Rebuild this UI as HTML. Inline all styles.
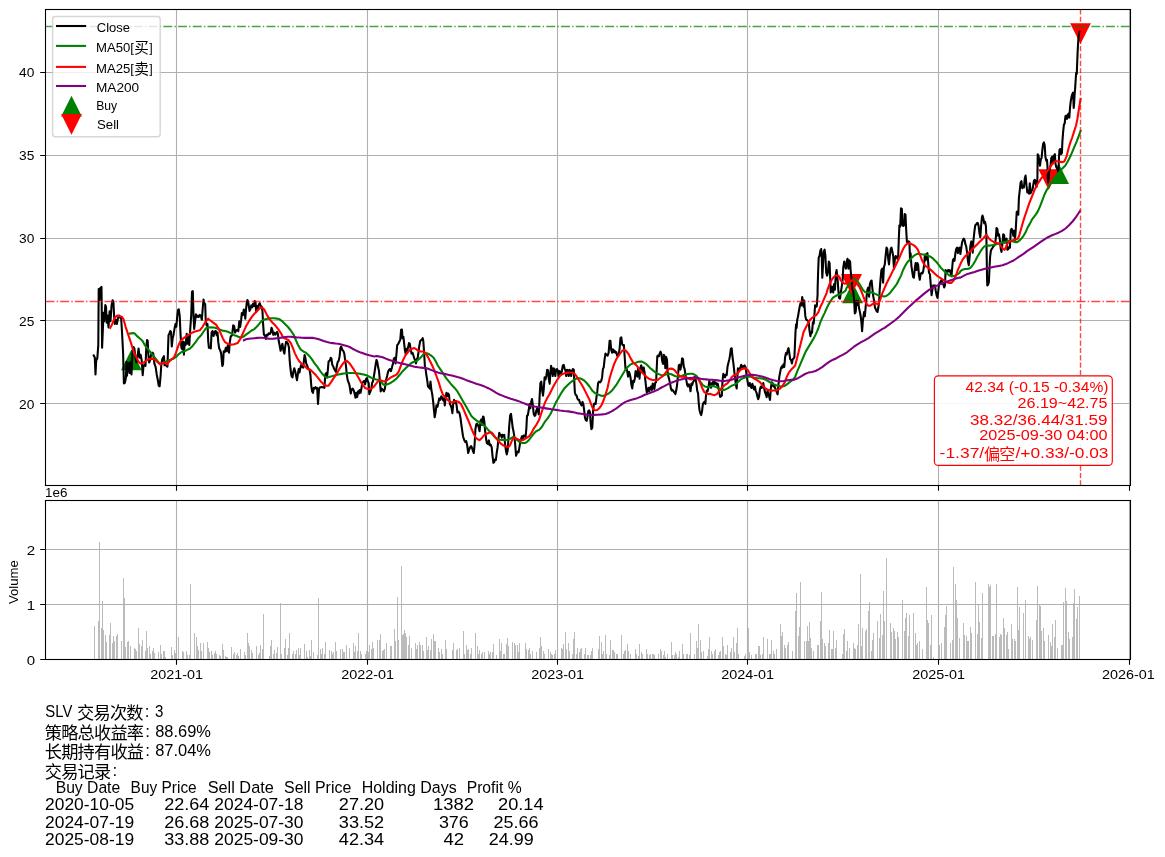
<!DOCTYPE html><html lang="zh"><head><meta charset="utf-8"><title>SLV</title>
<style>html,body{margin:0;padding:0;background:#fff}svg{display:block;will-change:transform}text{font-family:"Liberation Sans",sans-serif}text.cjk{font-family:"Liberation Sans","Noto Sans CJK SC",sans-serif}</style></head><body>
<svg width="1165" height="857" viewBox="0 0 1165 857">
<defs><clipPath id="c1"><rect x="45.50" y="9.50" width="1085.00" height="476.00"/></clipPath>
<clipPath id="c2"><rect x="45.50" y="500.50" width="1085.00" height="159.00"/></clipPath></defs>
<g clip-path="url(#c1)">
<polygon points="131.4,349.4 141.8,370.2 121.0,370.2" fill="#008000"/>
<polygon points="852.6,282.5 863.0,303.3 842.2,303.3" fill="#008000"/>
<polygon points="1058.6,163.3 1069.0,184.1 1048.2,184.1" fill="#008000"/>
<polygon points="851.6,294.7 862.0,273.9 841.2,273.9" fill="#ff0000"/>
<polygon points="1048.7,190.1 1059.1,169.3 1038.3,169.3" fill="#ff0000"/>
<polygon points="1080.5,44.1 1090.9,23.3 1070.1,23.3" fill="#ff0000"/>
<path d="M176.50 9.50V485.50M367.50 9.50V485.50M557.50 9.50V485.50M747.50 9.50V485.50M938.50 9.50V485.50M1129.50 9.50V485.50M45.50 72.50H1130.50M45.50 155.50H1130.50M45.50 238.50H1130.50M45.50 320.50H1130.50M45.50 403.50H1130.50" stroke="#b0b0b0" stroke-width="1.1" fill="none"/>
<polyline points="93.7,355.5 94.8,357.6 95.5,374.4 96.2,360.4 97.3,358.3 98.3,345.0 98.7,289.0 99.4,300.2 100.1,288.3 101.5,286.9 102.1,347.8 102.8,331.0 103.6,312.8 104.3,321.2 105.3,305.1 106.0,306.5 106.7,322.6 107.4,315.6 108.5,327.5 109.6,311.4 110.5,321.2 111.6,305.1 112.6,300.2 113.4,301.6 114.1,315.6 114.8,324.0 115.8,319.8 116.9,324.0 117.9,318.4 119.3,315.6 120.3,317.7 121.1,317.0 122.1,333.8 123.1,353.4 123.9,383.5 124.9,382.8 125.9,377.9 126.5,361.8 127.0,375.8 127.7,364.6 128.7,363.2 129.5,373.0 130.5,361.8 131.5,374.4 132.6,350.6 133.5,347.1 134.4,348.5 135.4,357.6 136.5,362.5 137.7,354.8 138.6,348.5 139.6,357.6 140.6,354.8 141.7,360.4 142.7,375.1 143.5,366.0 144.5,364.6 145.5,366.0 146.3,347.8 147.0,340.1 147.7,340.8 148.3,353.4 149.1,362.5 150.1,360.4 151.1,354.8 152.2,352.7 153.2,353.4 154.3,363.2 155.7,367.4 156.7,374.4 157.8,380.0 158.7,385.6 159.6,386.3 160.6,375.8 161.3,364.6 162.3,359.0 163.2,357.6 163.9,356.2 164.6,365.3 165.5,364.6 166.5,366.0 167.4,366.7 167.9,353.4 168.5,335.2 169.3,333.8 170.2,331.0 171.0,331.7 171.8,346.4 172.7,338.0 173.5,335.2 174.6,328.2 175.5,324.0 176.3,326.8 177.2,317.0 178.0,310.0 178.8,309.3 179.7,315.6 180.5,333.8 181.4,347.8 182.2,349.2 183.0,341.5 183.9,354.8 184.7,342.2 185.6,345.0 186.7,333.8 187.5,343.6 188.4,335.2 189.3,345.0 190.3,328.2 191.2,315.6 192.0,291.8 192.8,291.1 193.5,315.6 194.2,328.9 195.1,321.2 195.9,314.2 196.8,317.0 197.9,315.6 198.7,317.0 199.8,314.9 201.0,316.3 201.8,319.8 202.6,310.0 203.5,299.5 204.3,303.0 205.2,304.4 205.7,319.8 206.6,325.4 207.5,324.0 208.2,340.8 208.9,347.8 209.9,347.8 210.8,348.5 211.6,332.4 212.5,331.0 213.6,335.9 214.7,331.7 215.8,331.0 216.7,335.2 217.5,332.4 218.3,342.2 219.2,348.5 220.3,350.6 221.1,353.4 222.3,366.0 223.0,364.6 223.7,351.3 224.8,352.0 225.8,347.8 226.7,351.3 227.9,345.0 229.0,352.7 229.8,342.2 230.7,336.6 232.1,335.2 233.2,325.4 234.2,326.1 235.1,332.6 236.2,330.5 237.3,329.8 238.3,331.2 239.3,321.4 240.1,327.0 241.1,320.7 241.8,313.0 242.9,315.1 243.8,309.5 244.6,310.9 245.3,318.6 246.0,309.5 246.7,303.2 247.4,300.1 248.1,301.1 248.8,306.0 249.5,310.9 250.5,308.8 251.3,305.3 252.3,307.4 253.0,303.9 254.1,306.0 254.7,301.1 255.5,301.8 256.1,311.6 256.9,306.0 257.9,308.1 258.9,304.6 259.7,303.2 260.7,306.0 261.7,306.7 262.5,311.6 263.1,324.2 263.9,334.7 264.9,335.4 265.9,338.9 266.7,334.7 267.7,335.4 268.7,333.3 269.8,334.0 270.7,332.6 271.5,327.7 272.3,329.8 273.3,334.7 274.3,332.6 275.4,334.7 276.3,333.3 277.1,331.9 277.9,334.0 278.6,340.3 279.6,345.2 280.6,350.8 281.6,346.6 282.4,343.8 283.5,350.8 284.4,353.6 285.2,346.6 286.1,341.7 287.2,342.4 288.0,343.8 288.9,347.3 289.7,360.6 290.5,369.0 291.5,376.0 292.5,377.4 293.3,371.8 294.3,368.3 295.3,371.8 296.1,376.0 297.0,380.2 297.8,374.6 298.7,369.0 299.5,372.5 300.4,367.6 301.3,364.8 302.3,366.9 303.2,367.6 303.9,360.6 304.6,355.0 305.4,357.8 306.2,363.4 307.4,366.2 308.3,369.0 309.5,369.7 310.4,374.6 311.3,385.8 312.1,391.4 313.0,392.8 313.8,387.9 314.6,388.6 315.5,387.2 316.3,388.6 317.2,387.9 318.0,404.0 319.1,388.6 320.2,387.2 321.6,387.0 323.0,387.2 324.4,387.9 325.3,374.6 326.1,373.2 327.0,377.4 327.8,370.4 328.6,361.3 329.8,360.6 330.7,357.8 331.4,358.5 332.3,364.8 333.1,366.2 334.2,369.0 335.1,370.4 335.9,371.8 336.8,366.2 337.7,362.0 338.7,360.6 339.6,356.4 340.4,348.0 341.2,346.6 342.4,350.1 343.3,350.8 344.3,353.6 345.2,360.6 346.0,366.2 346.8,374.6 347.7,380.2 348.8,383.0 349.6,385.8 350.8,393.5 351.6,389.3 352.7,388.6 353.9,390.7 354.7,394.2 355.5,397.7 356.4,392.8 357.2,397.0 358.1,391.4 358.9,393.5 359.7,390.0 360.6,392.8 361.4,388.6 362.3,383.0 363.4,381.6 364.4,380.9 365.1,384.4 366.2,378.8 367.0,378.1 367.9,381.6 368.7,383.0 369.3,394.2 370.4,391.4 371.4,388.6 372.1,383.0 372.9,381.6 373.7,377.4 374.6,371.8 375.6,364.8 376.5,359.9 377.3,362.0 378.2,367.6 379.0,371.1 379.8,380.2 380.7,391.4 381.8,388.6 382.9,390.0 383.9,391.4 384.9,388.6 386.0,380.2 387.1,376.0 388.1,371.8 389.1,369.7 389.9,369.0 390.9,371.1 391.9,367.6 393.0,363.4 393.9,358.5 394.7,357.8 395.5,363.4 396.5,353.6 397.2,345.2 398.3,343.8 399.3,341.7 400.3,339.6 401.1,329.8 402.0,329.5 402.5,338.2 403.4,336.8 404.2,343.8 404.9,350.1 405.6,353.6 406.3,348.7 407.3,350.8 408.1,347.3 409.0,343.1 409.8,343.8 410.7,349.4 411.5,353.6 412.6,352.9 413.5,355.7 414.3,358.5 415.1,359.9 416.0,363.4 416.8,359.2 417.7,357.8 418.5,352.2 419.3,345.9 420.2,341.0 421.0,340.3 421.9,339.6 422.7,338.2 423.3,341.0 423.8,348.0 424.4,357.8 424.9,366.2 425.5,368.3 426.3,374.6 427.2,380.2 428.0,386.5 428.9,387.2 429.7,388.6 430.5,381.6 431.4,390.0 432.2,394.2 433.1,401.2 433.9,409.6 434.7,417.3 435.6,412.4 436.4,405.4 437.5,406.8 438.4,402.6 439.2,398.4 440.4,399.8 441.3,396.3 442.3,397.7 443.2,400.5 444.1,398.4 444.8,405.4 445.7,397.0 446.5,392.8 447.4,396.3 448.2,393.5 449.0,394.9 449.9,404.0 450.7,405.4 451.6,408.2 452.4,413.1 453.2,404.0 454.1,399.8 454.9,402.6 455.8,401.2 456.6,405.4 457.4,412.4 458.6,411.7 459.5,413.1 460.5,418.0 461.4,425.0 462.2,430.6 463.0,436.2 464.1,439.7 465.1,441.8 466.2,441.1 467.3,446.0 468.2,453.0 469.0,450.2 470.1,447.4 471.1,446.0 472.1,448.1 472.9,450.9 473.8,453.0 474.6,444.6 475.4,429.2 476.3,424.3 477.1,423.6 478.0,425.0 478.8,427.8 479.6,431.3 480.5,420.8 481.3,419.4 482.3,425.0 483.0,416.6 483.7,417.3 484.4,422.2 485.1,430.6 486.1,439.0 486.9,443.2 487.9,443.9 488.9,440.4 489.7,445.3 490.7,444.6 491.7,447.4 492.5,455.8 493.4,462.8 494.2,462.1 495.1,459.3 495.9,460.0 496.7,453.0 497.6,447.4 498.4,439.0 499.3,432.7 500.1,435.5 500.9,434.8 501.8,437.6 502.6,434.8 503.5,436.2 504.3,434.8 505.1,444.6 506.0,450.9 506.8,454.4 507.7,450.2 508.5,437.6 509.3,425.0 510.2,415.2 511.0,413.8 511.9,420.8 512.7,427.8 513.5,431.3 514.4,436.9 515.2,444.6 516.1,455.8 516.9,453.0 517.7,451.6 518.6,452.3 519.4,447.4 520.3,441.8 521.1,439.0 521.9,436.2 522.8,439.0 523.6,435.5 524.7,436.2 525.6,436.9 526.4,427.8 527.0,415.9 527.8,415.2 528.7,410.3 529.5,404.0 530.4,408.2 531.2,401.9 532.0,399.1 532.9,405.4 533.7,413.8 534.6,415.9 535.4,415.2 536.2,411.0 537.1,408.2 537.9,411.0 538.8,414.5 539.6,397.0 540.4,383.0 541.3,381.6 542.1,390.0 543.0,395.6 543.8,388.6 544.6,377.4 545.5,379.5 546.3,376.0 547.2,369.7 548.0,370.4 548.8,378.8 549.7,383.7 550.5,371.8 551.1,365.9 551.9,369.0 552.8,376.0 553.6,368.3 554.4,369.0 555.3,376.0 556.1,369.7 557.0,369.0 557.8,370.4 558.6,376.0 559.5,371.1 560.3,371.8 561.2,373.9 562.0,370.4 562.8,365.5 563.7,364.8 564.5,368.3 565.4,370.4 566.2,376.0 567.0,369.7 567.9,370.4 568.7,376.0 569.6,369.7 570.4,371.1 571.2,376.0 572.1,370.4 572.9,369.0 573.8,369.7 574.3,381.6 574.9,392.8 575.7,394.9 576.6,395.6 577.4,398.4 578.2,399.8 579.1,399.8 579.9,402.6 580.8,404.0 581.6,405.4 582.5,401.9 583.3,404.0 584.1,409.6 585.0,418.0 585.8,420.1 586.7,420.8 587.5,416.6 588.3,411.0 589.2,410.3 590.0,412.4 590.6,422.2 591.4,429.2 592.3,427.8 593.1,411.0 593.9,404.0 594.8,403.3 595.6,404.0 596.5,397.0 597.3,391.4 598.1,383.0 599.0,381.6 600.1,382.3 601.2,380.9 602.1,377.4 602.9,369.0 603.7,367.6 604.6,359.2 605.5,353.5 606.5,354.9 607.6,355.6 608.6,352.8 609.6,340.9 610.4,340.9 611.2,350.0 612.1,352.8 612.9,349.3 613.8,352.1 614.6,350.7 615.4,352.8 616.3,352.1 617.1,355.6 618.0,356.3 618.8,354.2 619.6,348.6 620.5,338.1 621.3,337.4 622.2,344.4 623.0,345.1 623.9,345.1 624.7,357.0 625.5,368.9 626.4,368.2 627.2,371.0 628.1,376.6 628.9,371.7 629.7,373.8 630.6,378.0 631.4,385.0 632.3,388.5 633.1,380.8 633.9,382.2 634.8,378.7 635.6,371.0 636.5,373.8 637.3,376.6 638.1,368.2 639.0,370.3 639.5,378.7 640.4,367.5 641.2,365.4 642.1,368.2 642.9,372.4 643.7,367.5 644.6,372.4 645.4,380.8 646.3,389.2 646.8,392.7 647.7,390.6 648.5,387.8 649.3,391.3 650.2,387.8 651.0,386.4 651.9,389.9 652.7,383.6 653.5,385.0 654.4,389.2 655.2,382.9 656.1,382.2 656.6,371.0 657.3,356.3 658.0,355.6 658.9,356.3 659.7,353.5 660.5,351.7 661.4,354.2 662.2,361.2 663.1,364.0 663.9,354.9 664.7,356.3 665.3,368.2 666.1,357.0 667.0,359.8 667.5,371.0 668.4,376.6 669.2,379.4 670.1,383.6 670.9,388.5 671.8,390.6 672.6,389.9 673.4,391.3 674.6,392.7 675.4,394.1 676.2,390.6 677.1,385.0 677.9,376.6 678.8,365.4 679.6,364.7 680.4,369.6 681.3,365.4 682.1,358.4 683.0,359.1 683.8,366.8 684.6,368.9 685.5,375.2 686.3,380.1 687.2,385.0 688.0,386.4 688.8,384.3 689.7,386.4 690.5,391.3 691.4,383.6 692.2,385.0 693.0,382.2 693.9,380.8 694.7,376.6 695.6,379.4 696.4,383.6 697.2,390.6 698.1,393.4 698.6,401.8 699.5,410.2 700.3,413.0 701.2,415.1 702.0,411.6 702.8,404.6 703.7,402.5 704.5,401.8 705.4,403.9 705.9,396.2 706.8,390.6 707.6,391.3 708.4,387.8 709.3,380.8 710.1,385.0 711.0,387.8 711.8,383.6 712.6,382.2 713.5,385.0 714.3,381.5 715.2,383.6 716.0,382.9 716.8,385.0 717.7,383.6 718.5,387.8 719.4,393.4 720.2,396.9 721.1,396.2 721.9,395.5 722.5,380.8 723.3,373.8 724.1,375.2 725.0,377.3 725.8,374.5 726.7,375.2 727.5,366.8 728.3,363.3 729.2,359.8 730.0,355.6 730.9,348.6 731.7,348.3 732.5,357.0 733.4,363.3 734.2,371.0 735.1,378.0 735.9,385.0 736.7,388.5 737.3,378.0 737.9,368.2 738.7,371.0 739.5,369.6 740.4,367.5 741.2,364.7 742.1,367.5 742.9,366.1 743.7,366.8 744.6,365.4 745.5,367.0 746.5,374.0 747.3,379.6 748.2,385.2 749.0,385.9 749.8,383.1 750.7,386.6 751.5,388.0 752.4,383.8 753.2,386.6 754.0,389.4 754.9,386.6 755.7,390.8 756.6,392.9 757.4,396.4 758.2,399.2 759.1,396.4 759.9,389.4 760.8,386.6 761.6,388.0 762.5,386.6 763.3,383.1 764.1,388.0 765.0,392.2 765.8,394.3 766.7,397.1 767.5,390.8 768.3,393.6 769.2,396.4 770.0,399.9 770.9,388.0 771.7,382.4 772.5,383.1 773.4,386.6 774.2,385.2 775.1,388.0 775.9,389.4 776.7,392.2 777.6,394.3 778.4,385.2 779.3,376.8 780.1,372.6 780.9,368.4 781.8,366.3 782.6,367.7 783.5,364.2 784.3,367.0 785.1,357.2 786.0,353.0 786.8,354.4 787.7,350.2 788.5,348.1 789.3,353.0 790.2,359.3 791.0,360.0 791.9,363.5 792.7,359.3 793.5,358.6 794.4,357.2 794.9,346.0 795.5,332.0 796.1,324.3 796.6,327.8 797.2,320.1 798.0,316.6 798.9,311.0 799.7,306.8 800.5,303.3 801.4,305.4 802.2,297.0 803.1,302.6 803.6,306.8 804.2,300.5 804.7,308.2 805.3,315.9 806.1,319.4 807.0,320.1 807.8,320.8 808.7,321.5 809.5,330.6 810.4,336.2 811.2,332.0 812.0,332.7 812.9,322.2 813.7,323.6 814.6,312.4 815.1,305.4 816.0,306.8 816.8,306.1 817.6,294.2 817.6,289.6 818.1,272.8 818.7,257.4 819.5,256.0 820.4,250.4 821.2,249.0 821.8,258.8 822.3,277.7 822.9,267.2 823.7,251.8 824.6,249.7 825.4,256.0 826.2,272.8 827.1,275.6 827.9,272.8 828.8,261.6 829.6,263.0 830.2,278.4 830.7,292.4 831.6,289.6 832.4,286.8 833.2,292.4 834.1,284.0 834.9,289.6 835.8,274.2 836.6,270.0 837.5,278.4 838.3,289.6 839.1,298.0 840.0,298.7 840.8,292.4 841.7,286.8 842.5,281.2 843.3,267.2 844.2,261.6 845.0,265.8 845.9,268.6 846.7,261.6 847.5,258.8 848.4,268.6 849.2,260.2 850.1,261.6 850.6,270.0 851.5,278.4 852.3,289.6 853.1,291.0 854.0,298.0 854.8,313.4 855.7,312.0 856.5,300.8 857.3,305.0 858.2,300.8 859.0,307.8 859.9,312.0 860.7,316.2 861.5,323.2 862.1,331.2 862.9,320.4 864.1,312.0 864.9,316.2 865.7,306.4 866.6,296.6 867.4,289.6 868.3,287.5 869.1,296.6 869.9,284.0 870.8,281.2 871.6,280.5 872.5,289.6 873.3,296.6 874.1,300.8 875.0,307.8 875.8,309.2 876.7,311.3 877.5,312.0 878.3,307.8 879.2,300.8 879.7,289.6 880.6,278.4 881.4,270.0 882.3,268.6 883.1,282.6 883.9,267.2 884.8,264.4 885.6,256.0 886.5,247.6 887.3,249.0 888.2,258.8 889.0,264.4 889.8,256.0 890.7,249.0 891.5,247.6 892.4,251.8 893.2,256.0 894.0,268.6 894.9,258.8 895.7,256.0 896.6,256.7 897.4,258.8 898.2,256.0 898.8,239.2 899.4,225.2 900.2,226.6 901.0,208.4 901.9,209.1 902.4,225.2 903.3,225.9 904.1,225.2 904.7,214.0 905.5,214.7 906.1,228.0 906.9,242.0 907.8,242.7 908.6,241.3 909.4,242.0 910.0,258.8 910.6,253.2 911.4,265.8 912.2,271.4 913.1,277.0 913.9,277.7 914.8,268.6 915.6,263.0 916.4,270.0 917.3,263.0 918.1,264.4 919.0,275.6 919.8,279.8 920.6,274.2 921.5,272.8 922.3,273.5 923.2,271.4 924.0,265.8 924.8,256.0 925.7,260.2 926.5,253.9 927.4,253.2 928.2,263.0 929.0,272.8 929.9,274.2 930.7,284.0 931.6,295.2 932.4,289.6 933.2,285.4 934.1,286.8 934.9,285.4 935.8,291.0 936.6,295.2 937.5,298.0 938.3,291.0 939.1,284.0 940.0,282.6 940.8,281.2 941.7,279.8 942.5,282.6 943.3,284.0 944.2,287.5 945.0,285.4 945.6,270.0 946.4,272.8 947.3,271.4 948.1,270.0 948.9,271.4 949.8,270.0 950.6,272.8 951.5,276.3 952.0,270.0 952.9,260.2 953.7,258.8 954.5,260.9 955.4,253.2 956.2,249.0 957.1,247.6 957.9,253.2 958.7,248.3 959.6,247.6 960.4,254.0 961.2,248.4 962.0,242.8 962.9,240.0 963.7,238.6 964.6,240.0 965.4,244.2 966.2,246.3 967.1,252.6 967.9,261.0 968.8,265.2 969.6,256.8 970.4,245.6 971.3,241.4 972.1,244.2 972.7,252.6 973.5,240.0 974.4,231.6 975.2,225.3 976.1,224.6 976.9,223.2 977.7,222.9 978.6,226.0 979.4,233.0 980.3,237.2 981.1,226.0 981.9,217.6 982.5,215.5 983.3,218.3 984.2,223.2 985.0,221.8 985.9,226.0 986.4,237.2 986.7,256.8 987.0,276.4 987.3,285.5 988.1,284.8 988.9,282.0 989.5,268.0 990.1,256.8 990.9,250.5 991.7,249.1 992.6,247.7 993.4,246.3 994.3,245.6 995.1,244.2 995.9,237.2 996.5,228.1 997.3,228.8 998.2,235.8 999.0,234.4 999.9,240.0 1000.7,248.4 1001.5,251.9 1002.4,244.2 1003.2,234.4 1004.1,235.1 1004.9,242.8 1005.7,240.0 1006.6,238.6 1007.4,249.8 1008.3,249.1 1009.1,247.0 1009.9,247.7 1010.8,230.2 1011.6,228.8 1012.5,230.2 1013.3,235.8 1014.1,230.9 1015.0,240.0 1015.8,228.8 1016.7,212.0 1017.5,211.3 1018.3,214.8 1018.9,198.0 1019.7,191.0 1020.6,182.6 1021.4,181.2 1022.3,188.2 1023.1,186.1 1023.9,187.5 1024.8,178.4 1025.6,175.6 1026.5,185.4 1027.3,192.4 1028.2,191.0 1029.0,193.8 1029.8,183.3 1030.7,193.1 1031.5,191.0 1032.4,190.3 1033.2,185.4 1034.0,180.5 1034.9,179.8 1035.7,184.0 1036.6,186.8 1037.4,178.4 1037.7,154.2 1038.5,155.5 1039.3,161.9 1040.0,165.7 1040.8,159.3 1041.6,158.0 1042.3,150.3 1043.1,143.9 1043.9,142.4 1044.7,145.2 1045.4,156.7 1046.2,160.6 1047.0,159.9 1047.5,167.0 1048.0,182.4 1048.5,179.8 1049.0,173.4 1049.8,169.6 1050.6,164.4 1051.3,158.0 1052.1,156.7 1052.9,163.2 1053.6,156.7 1054.4,154.8 1054.9,154.2 1055.4,163.2 1056.2,167.0 1057.0,168.3 1057.7,169.6 1058.5,172.1 1059.0,156.7 1059.5,149.7 1060.3,149.0 1061.1,154.2 1061.9,152.9 1062.4,141.3 1063.1,132.4 1063.9,124.7 1064.7,123.4 1065.4,116.3 1066.2,115.7 1067.0,118.9 1067.8,115.0 1068.5,113.7 1069.3,117.6 1070.1,106.7 1070.8,100.9 1071.6,96.4 1072.4,93.9 1073.1,92.6 1073.7,108.0 1074.2,102.8 1074.6,94.8 1075.2,87.5 1075.8,78.0 1076.2,72.8 1076.8,73.8 1077.1,65.4 1077.5,54.9 1077.9,46.5 1078.5,37.1 1079.2,32.9 1079.5,31.8" fill="none" stroke="#000" stroke-width="2.08" stroke-linejoin="round" stroke-linecap="square"/>
<polyline points="130.1,333.5 133.3,333.1 134.7,333.5 136.8,335.9 139.6,338.3 142.4,340.8 145.2,345.7 148.0,349.2 150.8,352.7 153.6,356.2 156.4,359.7 159.2,363.2 162.0,363.5 164.8,362.5 167.6,360.7 170.4,359.7 173.2,358.8 176.0,356.9 178.8,354.1 181.6,352.0 184.4,351.3 187.2,349.9 190.0,348.5 192.8,345.7 195.6,342.2 198.4,338.0 201.2,335.2 204.0,331.0 206.1,328.2 208.2,327.5 211.1,327.2 213.9,327.5 216.7,328.2 219.5,329.6 222.3,330.6 225.1,331.0 227.9,331.7 230.7,333.1 234.2,335.2 236.2,335.7 239.0,337.1 241.1,337.5 243.2,336.8 246.0,334.7 248.8,332.6 251.6,330.5 254.4,329.1 257.2,326.3 260.0,322.8 262.8,320.3 265.6,319.3 268.4,318.6 271.2,318.3 274.0,318.3 276.8,318.6 279.6,319.3 282.4,321.4 285.2,324.2 288.0,327.0 290.8,330.5 293.6,334.7 295.7,339.6 297.8,344.5 300.6,349.4 303.4,351.5 306.2,352.9 309.0,355.7 311.8,359.2 314.6,363.4 317.4,366.9 320.2,371.1 323.0,374.6 325.1,376.7 327.2,377.4 330.0,376.7 332.8,376.0 335.6,375.3 338.4,374.6 341.2,373.9 344.0,373.5 346.8,373.2 349.6,373.0 352.5,373.0 355.3,373.2 358.1,373.5 360.9,373.9 363.7,374.4 366.5,375.3 369.3,376.7 372.1,378.1 374.6,379.1 376.2,379.5 379.0,379.9 381.1,381.6 383.2,384.4 385.3,385.1 388.1,384.1 390.9,382.7 393.7,380.9 396.5,378.5 399.3,375.3 402.1,371.8 404.9,369.0 407.7,366.2 410.5,363.7 413.3,362.0 416.1,361.3 418.9,359.2 421.7,356.4 423.8,353.9 425.9,353.2 428.0,353.6 430.8,355.3 433.6,357.8 435.7,361.3 437.8,365.5 440.6,369.7 443.4,373.9 446.2,378.1 449.0,381.6 451.8,385.1 454.6,387.9 457.4,391.4 460.2,396.3 463.0,401.2 465.8,406.1 468.6,411.0 471.4,415.9 474.2,418.7 477.0,420.8 479.8,422.5 482.6,424.3 485.4,426.7 488.2,429.9 491.1,432.7 493.9,436.2 496.7,438.8 499.8,439.7 502.6,440.0 505.4,440.0 508.2,439.7 511.0,438.3 513.1,436.9 515.2,437.9 517.3,440.2 519.4,441.8 522.2,443.0 525.0,443.0 527.1,441.8 529.2,439.7 531.3,436.9 533.4,434.1 536.2,431.3 539.0,429.9 541.8,427.1 544.6,422.2 547.4,418.7 550.2,414.5 553.0,408.9 555.8,402.6 558.6,397.7 561.4,392.8 564.2,388.6 567.0,385.8 569.8,383.0 572.6,380.9 575.4,379.1 578.2,378.1 581.1,378.8 583.9,380.2 586.7,383.0 589.5,386.5 592.3,390.7 595.1,393.1 597.9,394.6 600.7,395.6 603.5,395.9 606.2,394.8 608.3,393.7 610.4,392.0 612.5,389.9 614.6,387.1 616.7,384.3 618.8,380.8 620.9,377.3 623.0,373.8 625.1,370.3 627.2,367.5 629.3,365.4 631.4,364.0 633.5,363.3 635.6,362.9 637.7,361.9 639.8,361.5 641.9,361.6 644.0,362.6 646.1,364.0 648.2,366.1 650.3,368.2 652.4,369.9 654.5,371.7 656.6,373.1 658.7,374.1 660.8,374.9 662.9,375.5 665.0,374.9 667.1,374.1 669.2,373.8 671.3,374.2 673.4,375.2 675.5,376.2 677.6,376.6 679.7,376.6 681.8,375.9 683.9,374.9 686.0,374.2 688.1,374.0 690.2,373.8 692.3,373.8 694.4,374.5 696.5,375.9 698.6,378.7 700.7,382.2 702.8,385.0 704.9,386.4 707.0,387.1 709.1,386.7 711.2,386.1 713.3,386.1 715.4,386.7 717.5,387.8 719.6,389.2 721.8,389.9 723.9,389.9 726.0,389.2 728.1,388.1 730.2,386.7 732.3,385.4 734.4,384.7 736.5,383.6 738.6,381.5 740.7,379.4 742.8,378.3 744.6,377.7 745.5,376.8 748.3,376.6 751.1,376.8 753.9,377.5 756.7,378.0 759.5,378.2 762.3,378.5 765.1,379.4 767.9,381.0 770.7,382.7 773.5,384.1 776.3,385.2 779.1,385.9 781.9,386.4 784.7,385.9 787.5,383.8 790.3,381.7 793.1,379.6 795.2,376.8 797.3,371.2 799.4,366.3 801.5,361.4 803.6,356.5 805.7,351.6 807.8,348.1 809.9,344.6 812.0,341.1 814.1,337.6 816.2,333.4 818.3,328.5 820.4,322.2 822.5,317.3 824.6,313.1 826.7,308.2 828.8,304.0 830.9,300.5 833.0,297.7 835.1,296.3 837.2,295.3 839.3,294.5 841.4,293.5 843.5,292.1 845.6,290.7 846.4,288.2 848.5,284.7 850.6,281.9 852.7,279.8 854.8,279.1 856.9,280.5 859.0,283.3 861.1,286.8 863.2,290.3 865.3,292.2 867.4,292.7 869.5,292.4 871.6,292.4 873.7,293.1 875.8,294.1 877.9,295.2 880.0,295.7 882.1,295.9 884.2,296.4 886.3,295.9 888.4,294.5 890.5,292.4 892.6,289.6 894.7,286.8 896.8,284.0 898.9,279.8 901.0,275.6 903.1,270.0 905.2,265.8 907.3,262.3 909.4,260.2 911.5,258.1 913.6,256.0 915.7,254.6 917.8,253.6 919.9,253.9 922.0,254.3 924.1,254.6 926.2,255.0 928.3,255.7 930.4,256.7 932.5,258.1 934.6,260.2 936.8,262.3 938.9,265.1 941.0,267.9 943.1,270.0 945.2,272.1 947.3,273.9 949.4,275.4 951.5,276.1 953.6,276.1 955.7,275.4 957.8,274.2 959.6,272.8 960.5,271.1 962.6,269.7 964.7,269.0 966.8,268.9 968.9,268.7 971.0,267.3 973.1,264.5 975.2,261.0 977.3,256.8 979.4,253.3 981.5,249.8 983.6,247.0 985.7,245.6 987.8,245.6 989.9,245.6 992.0,245.2 994.1,244.9 996.2,244.2 998.3,243.8 1000.4,243.1 1002.5,242.5 1004.6,242.1 1006.7,241.4 1008.8,240.7 1010.9,240.7 1013.0,241.4 1015.1,242.1 1017.2,242.1 1019.3,240.7 1021.4,238.6 1023.5,235.8 1025.6,232.3 1027.7,227.4 1029.8,223.9 1031.9,219.7 1034.0,216.9 1036.1,214.1 1038.2,210.6 1040.3,205.7 1042.4,200.1 1044.5,194.5 1046.6,190.3 1048.7,186.8 1050.8,183.3 1052.9,179.8 1053.6,178.6 1056.2,175.7 1058.1,173.4 1059.4,171.9 1061.3,169.6 1063.3,167.6 1065.2,165.7 1067.1,162.5 1069.0,159.0 1071.0,154.8 1072.9,150.3 1074.8,145.8 1076.7,141.3 1078.7,136.2 1080.6,130.8" fill="none" stroke="#008000" stroke-width="2.08" stroke-linejoin="round" stroke-linecap="square"/>
<polyline points="110.2,327.9 112.3,324.0 114.4,318.4 116.5,316.0 117.9,315.6 120.0,316.3 121.7,316.7 123.5,319.1 125.6,326.8 128.4,335.2 131.2,343.6 133.3,350.6 135.4,355.5 137.5,359.7 139.6,363.0 141.0,363.5 143.8,362.5 146.6,360.2 149.4,359.0 152.2,358.8 155.0,359.5 157.8,362.5 160.4,364.6 162.7,363.2 164.8,362.5 166.9,364.6 168.3,362.5 171.1,359.7 173.9,357.6 176.0,352.7 178.1,346.4 180.2,341.5 183.0,338.7 185.8,336.6 188.6,334.9 191.4,333.1 194.2,331.7 197.0,331.0 199.8,330.3 202.6,326.8 205.4,321.9 208.2,318.7 210.4,320.5 213.2,322.6 216.0,324.7 218.8,328.9 220.9,333.8 223.0,338.7 225.1,342.2 227.9,343.9 230.7,344.6 234.2,344.3 237.6,343.1 240.4,338.9 243.2,332.6 246.0,326.3 248.8,321.4 251.6,317.2 254.4,313.7 257.2,310.9 260.0,308.1 262.1,307.4 264.2,309.5 267.0,315.1 269.8,319.3 272.6,322.8 275.4,325.6 278.2,329.1 281.0,333.3 283.1,337.5 285.9,338.9 288.7,340.3 290.8,343.1 292.9,348.0 295.0,353.6 297.1,357.8 299.2,361.3 302.0,364.1 304.8,366.2 307.6,369.0 310.4,369.7 313.2,372.5 316.0,375.3 318.8,378.8 321.6,382.3 324.4,385.1 326.5,385.8 328.6,385.6 331.4,381.6 334.2,377.4 337.0,373.2 339.8,368.3 342.6,364.1 345.2,360.9 346.8,360.9 348.9,362.7 351.1,365.5 353.9,369.7 356.7,374.6 359.5,379.5 362.3,384.4 365.1,387.9 367.9,388.9 370.7,388.9 373.5,387.2 376.2,383.7 378.3,380.9 380.1,379.9 382.5,380.9 385.3,381.6 388.1,379.5 390.9,377.4 393.7,376.0 396.5,374.6 398.6,371.8 400.7,366.2 402.8,360.6 405.6,355.0 408.4,351.5 411.2,349.1 414.0,348.0 416.1,349.1 418.2,350.8 421.0,351.5 423.8,351.5 425.9,353.6 428.0,357.1 430.1,361.3 432.2,365.5 434.3,370.4 436.4,376.0 438.5,381.6 440.6,388.6 442.7,394.2 444.8,397.0 447.6,399.8 450.4,401.9 452.5,402.6 454.6,401.5 456.7,401.2 458.8,401.9 460.9,404.0 463.0,408.2 465.1,413.1 467.2,418.0 469.3,422.9 471.4,428.5 473.5,433.4 475.6,437.6 477.4,439.0 479.5,440.2 481.6,438.3 483.7,435.5 486.5,433.7 489.3,432.7 491.7,432.5 493.5,434.8 495.6,437.6 498.4,441.1 501.2,443.9 504.0,445.8 506.8,446.7 508.9,446.7 510.3,444.6 511.7,441.1 513.1,438.3 514.9,437.6 516.6,438.8 518.7,439.7 520.8,440.2 522.9,440.0 525.0,439.0 527.1,437.6 529.2,436.2 531.3,433.4 533.4,429.2 536.2,425.0 539.0,420.1 541.1,413.8 543.2,407.5 545.3,401.9 547.4,397.7 549.5,394.2 551.6,390.0 553.7,385.8 555.8,382.3 557.9,378.8 560.0,376.0 562.1,374.3 564.2,373.5 567.0,372.9 569.8,372.5 572.6,372.5 574.7,373.9 576.8,376.7 578.9,380.2 581.1,383.7 583.2,387.2 585.3,391.4 587.4,395.6 589.5,399.8 591.6,405.4 593.0,408.9 595.1,410.3 597.2,410.0 599.3,408.2 601.4,405.4 603.5,400.5 605.5,394.8 607.6,387.8 609.7,378.0 611.8,371.0 613.9,364.7 616.0,359.8 618.1,356.3 620.2,353.5 622.3,350.7 624.4,349.7 626.5,351.4 628.6,354.2 630.7,358.4 632.8,361.9 634.9,364.0 637.0,366.1 639.1,368.9 641.2,371.7 643.3,373.8 645.4,375.9 647.5,377.7 649.6,379.1 651.7,379.7 653.8,380.1 655.9,380.5 658.0,379.7 660.1,378.0 662.2,376.6 664.3,374.5 666.4,371.7 668.5,369.3 670.6,368.6 672.7,368.9 674.8,370.3 676.9,373.1 679.0,375.5 681.1,376.6 683.2,376.6 685.3,376.9 687.4,378.0 689.5,379.1 691.6,379.4 693.7,378.7 695.8,377.7 697.9,378.7 700.0,382.2 702.1,387.8 704.2,392.0 706.3,393.7 708.4,394.1 710.5,393.9 712.6,394.8 714.7,395.1 716.8,394.1 718.9,391.3 721.1,388.5 723.2,386.4 725.3,384.7 727.4,383.3 729.5,380.8 731.6,377.3 733.7,375.5 735.8,374.9 737.9,373.1 740.0,370.3 742.1,368.9 744.6,368.5 745.5,368.4 747.6,369.8 749.7,373.3 751.8,376.8 754.6,378.9 757.4,380.3 760.2,382.4 763.0,385.9 765.8,388.7 768.6,390.1 771.4,390.6 774.2,390.4 777.0,390.1 779.8,388.7 782.6,385.9 784.7,382.4 786.8,376.8 788.9,372.6 791.0,369.8 793.1,367.7 795.2,365.6 797.3,357.2 799.4,348.8 801.5,340.4 803.6,332.0 805.7,327.8 807.8,323.6 809.9,320.1 812.0,318.0 814.1,316.3 816.2,315.2 818.3,312.4 820.4,306.8 822.5,302.6 824.6,297.7 826.7,292.8 827.5,289.6 829.6,284.0 831.7,279.8 833.8,277.0 835.9,275.6 838.0,275.4 839.4,277.0 840.8,280.5 842.9,282.6 845.0,283.8 847.1,283.3 849.2,281.9 851.3,280.5 853.4,280.5 855.5,282.6 857.6,284.7 859.7,287.5 861.8,292.4 863.9,298.0 866.0,302.9 868.1,305.7 870.2,305.7 872.3,304.3 874.4,303.4 876.5,303.6 878.3,304.3 880.0,300.1 882.1,293.8 884.2,288.9 886.3,284.0 888.4,279.8 890.5,275.6 892.6,271.4 894.7,267.2 896.8,263.0 898.9,258.8 901.0,253.9 903.1,249.0 905.2,245.5 907.3,243.7 909.4,243.4 911.5,244.1 913.6,245.1 915.7,246.9 917.8,249.7 919.9,254.6 922.0,260.2 924.1,264.4 926.2,266.5 928.3,267.9 930.4,269.6 932.5,271.4 934.6,273.5 936.8,275.6 938.9,277.0 941.0,278.4 943.1,279.8 945.2,281.2 947.3,282.4 949.4,282.9 951.5,282.9 953.6,280.5 955.7,276.3 957.8,270.0 959.6,266.1 960.5,263.8 962.6,259.6 964.7,256.8 966.8,254.7 968.9,252.6 971.0,250.5 973.1,248.4 975.2,246.3 977.3,244.2 979.4,242.1 981.5,240.0 983.6,237.9 985.7,235.5 986.7,235.1 988.5,237.9 990.6,240.0 992.7,241.4 994.8,242.5 996.9,243.1 999.0,243.5 1001.1,246.3 1003.2,249.1 1004.6,249.8 1006.0,247.0 1007.4,243.5 1009.5,241.4 1011.6,240.7 1013.7,240.0 1015.8,239.6 1017.9,238.6 1019.3,235.1 1020.7,230.2 1022.1,225.3 1023.5,220.4 1024.9,216.2 1026.3,212.0 1027.7,207.8 1029.1,203.6 1030.5,200.1 1031.9,196.6 1033.3,193.1 1034.7,189.6 1036.1,186.8 1037.5,184.0 1038.9,181.9 1040.3,179.8 1041.7,177.7 1043.1,176.3 1044.0,176.0 1045.9,172.8 1048.5,169.6 1051.1,165.7 1053.6,162.5 1055.6,161.2 1058.1,161.2 1060.7,161.9 1062.6,162.1 1064.5,161.2 1066.5,156.7 1068.4,149.0 1070.3,142.6 1072.2,137.5 1074.2,131.1 1076.1,125.3 1077.4,118.9 1078.7,110.5 1079.9,102.8 1080.6,99.0" fill="none" stroke="#ff0000" stroke-width="2.08" stroke-linejoin="round" stroke-linecap="square"/>
<polyline points="243.9,340.3 246.0,339.3 248.8,338.8 251.6,338.5 254.4,338.2 257.2,337.9 260.0,337.8 262.8,337.8 265.6,338.2 268.4,338.6 271.2,338.8 274.0,338.6 276.8,338.2 279.6,337.9 282.4,337.5 285.2,337.1 288.0,336.8 290.8,336.8 293.6,337.1 296.4,337.4 299.2,337.5 302.0,337.8 304.8,337.9 307.6,337.9 310.4,337.8 313.2,337.9 316.0,338.5 318.8,339.3 321.6,340.3 324.4,341.3 327.2,342.1 330.0,342.7 332.8,343.1 335.6,343.5 338.4,343.8 341.2,344.5 344.0,345.2 346.8,345.9 349.6,347.0 352.5,348.7 355.3,350.1 358.1,351.5 360.9,352.6 363.7,353.6 366.5,354.6 369.3,355.3 372.1,355.9 374.6,356.4 376.2,356.1 379.0,356.4 381.8,357.1 384.6,358.1 387.4,359.2 390.2,360.2 393.0,361.0 395.8,362.0 398.6,362.7 401.4,363.4 404.2,364.1 407.0,364.8 409.8,365.5 412.6,366.2 415.4,366.9 418.2,367.3 421.0,367.6 423.8,367.9 426.6,368.3 429.4,369.3 432.2,370.4 435.0,371.5 437.8,372.5 440.6,373.2 443.4,373.6 446.2,374.2 449.0,374.9 451.8,375.6 454.6,376.3 457.4,377.1 460.2,377.8 463.0,378.8 465.8,379.9 468.6,380.9 471.4,381.9 474.2,383.0 477.0,384.0 479.8,384.8 482.6,385.8 485.4,386.9 488.2,388.2 491.1,389.7 493.9,391.4 496.7,393.1 499.5,394.5 502.3,395.6 505.1,396.8 507.9,397.7 510.7,398.7 513.5,399.6 518.0,400.9 522.2,402.6 526.4,404.3 530.6,405.7 534.8,406.5 539.0,407.2 543.2,407.9 547.4,408.6 551.6,409.3 555.8,409.9 560.0,410.5 564.2,411.0 568.4,411.4 572.6,412.1 576.8,413.1 581.1,413.8 585.3,414.4 589.5,414.8 593.7,414.9 597.9,414.8 602.1,414.4 605.5,414.0 608.3,413.0 611.1,411.6 613.9,410.0 616.7,408.1 619.5,406.0 622.3,403.9 625.1,402.1 627.9,400.9 630.7,400.0 633.5,399.3 636.3,398.6 639.1,397.4 641.9,396.2 644.7,394.8 647.5,393.9 650.3,392.7 653.1,391.8 655.9,390.6 658.7,389.2 661.5,387.5 664.3,386.1 667.1,384.6 669.9,383.3 672.7,382.2 675.5,381.1 678.3,380.1 681.1,379.4 683.9,378.7 686.7,378.3 689.5,378.0 692.3,377.7 695.1,377.6 697.9,378.0 700.7,378.7 703.5,379.1 706.3,379.4 709.1,379.7 711.9,379.8 714.7,380.1 717.5,380.4 720.4,380.8 723.2,381.1 726.0,380.8 728.8,380.4 731.6,379.7 734.4,378.7 737.2,377.7 740.0,376.9 742.8,376.2 744.6,375.9 745.5,375.2 749.0,374.9 752.5,374.7 756.0,375.2 759.5,375.9 763.0,376.8 766.5,378.0 770.0,379.2 773.5,380.3 777.0,381.0 780.5,381.3 784.0,381.0 787.5,380.3 791.0,379.9 794.5,379.6 798.0,378.2 801.5,376.1 805.0,374.0 808.5,372.6 812.0,371.9 815.5,371.0 819.0,369.1 822.5,366.8 826.0,364.2 829.5,361.7 833.0,359.7 836.5,358.2 840.0,356.2 843.5,354.4 847.0,352.3 850.5,349.5 854.0,346.7 857.5,344.3 861.1,342.2 864.6,340.4 868.1,338.3 871.6,335.9 875.1,333.4 878.6,331.3 882.1,329.2 884.6,327.8 895.4,320.0 899.6,316.2 903.8,312.0 908.0,307.8 912.2,303.9 916.4,300.1 920.6,296.6 924.8,293.1 929.0,289.9 933.2,287.5 937.5,285.4 941.7,283.8 945.9,281.9 950.1,280.5 954.3,279.1 957.1,278.2 959.6,277.5 960.5,277.6 964.0,275.7 967.5,273.9 971.0,272.9 974.5,272.0 978.0,270.8 981.5,269.7 985.0,268.7 988.5,268.0 992.0,267.3 995.5,266.6 999.0,265.9 1002.5,265.2 1006.0,264.1 1009.5,262.4 1013.0,260.8 1016.5,258.5 1020.0,256.1 1023.5,253.8 1027.0,251.2 1030.5,248.9 1034.0,246.6 1037.5,244.2 1041.0,241.7 1044.5,239.3 1048.0,237.2 1051.5,235.5 1055.0,234.1 1058.5,232.7 1062.0,230.9 1065.5,228.5 1069.0,225.3 1072.5,221.5 1076.1,216.9 1078.2,213.7 1080.0,210.9" fill="none" stroke="#800080" stroke-width="2.08" stroke-linejoin="round" stroke-linecap="square"/>
<line x1="45.50" x2="1130.50" y1="26.5" y2="26.5" stroke="#008000" stroke-opacity="0.72" stroke-width="1.39" stroke-dasharray="8.9 2.22 1.39 2.22"/>
<line x1="45.50" x2="1130.50" y1="301.5" y2="301.5" stroke="#ff0000" stroke-opacity="0.72" stroke-width="1.39" stroke-dasharray="8.9 2.22 1.39 2.22"/>
<line x1="1080.5" x2="1080.5" y1="485.50" y2="9.50" stroke="#ff0000" stroke-opacity="0.72" stroke-width="1.39" stroke-dasharray="5.14 2.22"/>
</g>
<rect x="934.4" y="375.8" width="177.9" height="89.6" rx="4" ry="4" fill="#fff" fill-opacity="0.9" stroke="#ff0000" stroke-width="1.15"/>
<rect x="45.50" y="9.50" width="1085.00" height="476.00" fill="none" stroke="#000" stroke-width="1.1"/>
<path d="M176.50 485.50v5.3M367.50 485.50v5.3M557.50 485.50v5.3M747.50 485.50v5.3M938.50 485.50v5.3M1129.50 485.50v5.3M45.50 72.50h-5.3M45.50 155.50h-5.3M45.50 238.50h-5.3M45.50 320.50h-5.3M45.50 403.50h-5.3" stroke="#000" stroke-width="1.1" fill="none"/>
<text x="34.40" y="76.90" font-size="12.40" text-anchor="end" fill="#000" textLength="15.3" lengthAdjust="spacingAndGlyphs">40</text>
<text x="34.40" y="159.90" font-size="12.40" text-anchor="end" fill="#000" textLength="15.3" lengthAdjust="spacingAndGlyphs">35</text>
<text x="34.40" y="242.90" font-size="12.40" text-anchor="end" fill="#000" textLength="15.3" lengthAdjust="spacingAndGlyphs">30</text>
<text x="34.40" y="325.90" font-size="12.40" text-anchor="end" fill="#000" textLength="15.3" lengthAdjust="spacingAndGlyphs">25</text>
<text x="34.40" y="408.90" font-size="12.40" text-anchor="end" fill="#000" textLength="15.3" lengthAdjust="spacingAndGlyphs">20</text>
<g clip-path="url(#c2)" shape-rendering="crispEdges">
<path d="M94 626V660M98 621V660M99 542V660M101 628V660M102 601V660M103 630V660M105 635V660M106 642V660M109 635V660M110 623V660M112 643V660M113 636V660M114 641V660M116 636V660M117 634V660M121 641V660M123 578V660M124 598V660M125 647V660M127 642V660M128 641V660M130 646V660M134 648V660M135 649V660M136 651V660M138 628V660M139 644V660M141 646V660M142 640V660M145 651V660M146 631V660M147 648V660M149 646V660M150 654V660M152 651V660M153 648V660M154 653V660M158 652V660M160 645V660M161 654V660M163 651V660M164 651V660M165 657V660M171 647V660M172 655V660M174 650V660M175 653V660M178 637V660M182 651V660M183 652V660M186 651V660M187 655V660M189 655V660M190 584V660M194 633V660M196 637V660M197 646V660M198 650V660M200 643V660M201 651V660M203 643V660M207 642V660M208 648V660M209 652V660M211 651V660M212 655V660M214 653V660M215 651V660M216 654V660M219 655V660M220 656V660M222 644V660M223 650V660M225 656V660M226 657V660M227 657V660M231 647V660M233 654V660M234 652V660M236 655V660M237 653V660M238 656V660M240 649V660M244 652V660M245 655V660M247 633V660M248 643V660M249 646V660M251 650V660M252 653V660M256 646V660M258 655V660M259 653V660M260 645V660M262 649V660M263 614V660M269 656V660M270 646V660M271 640V660M273 654V660M274 650V660M276 653V660M277 647V660M280 603V660M281 654V660M284 648V660M285 639V660M287 655V660M288 648V660M289 633V660M292 654V660M293 651V660M295 654V660M296 650V660M298 648V660M299 655V660M300 648V660M304 644V660M306 651V660M307 657V660M309 650V660M310 656V660M311 640V660M313 652V660M317 655V660M318 598V660M320 649V660M321 654V660M322 648V660M324 654V660M325 642V660M329 650V660M331 651V660M332 654V660M333 652V660M335 642V660M336 651V660M340 649V660M342 649V660M343 652V660M344 652V660M346 645V660M349 648V660M353 643V660M354 652V660M355 646V660M357 651V660M358 633V660M360 651V660M361 654V660M365 654V660M366 651V660M367 654V660M368 652V660M369 645V660M371 649V660M372 642V660M373 648V660M377 640V660M379 640V660M380 634V660M382 651V660M383 650V660M384 649V660M386 643V660M390 646V660M391 646V660M394 629V660M395 641V660M397 597V660M398 640V660M401 566V660M402 635V660M403 634V660M404 630V660M405 633V660M406 637V660M408 645V660M409 636V660M411 648V660M415 643V660M416 649V660M417 645V660M419 642V660M420 645V660M422 645V660M423 651V660M426 637V660M427 650V660M428 646V660M430 650V660M431 639V660M433 634V660M434 641V660M435 641V660M438 648V660M439 652V660M441 649V660M442 654V660M445 640V660M446 649V660M452 650V660M453 643V660M456 650V660M457 649V660M459 648V660M463 631V660M464 654V660M466 645V660M467 650V660M468 649V660M470 654V660M471 648V660M475 633V660M477 646V660M478 654V660M479 650V660M481 654V660M482 652V660M484 652V660M488 651V660M489 654V660M490 652V660M492 652V660M493 644V660M496 655V660M499 639V660M500 651V660M501 643V660M503 654V660M504 654V660M506 644V660M507 638V660M508 646V660M512 642V660M514 643V660M515 645V660M517 645V660M518 652V660M519 643V660M525 643V660M526 649V660M528 650V660M529 648V660M530 654V660M532 651V660M536 652V660M539 648V660M540 637V660M541 646V660M543 651V660M544 654V660M548 649V660M550 652V660M551 654V660M552 655V660M554 654V660M555 650V660M561 648V660M562 649V660M563 644V660M565 632V660M566 649V660M568 643V660M569 651V660M572 654V660M573 639V660M574 632V660M576 654V660M577 648V660M579 652V660M580 649V660M581 648V660M584 654V660M585 648V660M587 655V660M588 655V660M590 655V660M591 651V660M592 648V660M598 649V660M599 636V660M601 642V660M602 654V660M603 651V660M605 635V660M606 654V660M609 655V660M610 640V660M612 650V660M613 650V660M614 652V660M616 654V660M617 654V660M621 635V660M623 654V660M624 651V660M625 650V660M627 644V660M628 651V660M630 654V660M635 649V660M636 654V660M638 656V660M639 644V660M641 652V660M642 654V660M646 649V660M647 654V660M649 655V660M650 654V660M652 654V660M653 654V660M654 655V660M658 654V660M660 649V660M661 651V660M663 655V660M664 651V660M665 657V660M667 654V660M671 642V660M672 655V660M674 655V660M675 652V660M676 654V660M678 657V660M679 651V660M682 644V660M683 654V660M686 654V660M687 654V660M689 655V660M690 633V660M694 654V660M696 641V660M697 648V660M698 624V660M700 640V660M701 652V660M703 651V660M707 656V660M708 649V660M709 637V660M711 651V660M712 654V660M714 651V660M715 649V660M718 655V660M719 652V660M720 651V660M722 637V660M723 646V660M725 654V660M726 655V660M727 645V660M730 652V660M731 648V660M733 637V660M734 652V660M736 643V660M737 628V660M738 654V660M744 656V660M745 654V660M748 628V660M749 652V660M751 655V660M755 654V660M756 654V660M758 646V660M759 646V660M760 655V660M762 654V660M763 637V660M767 639V660M769 654V660M770 654V660M771 640V660M773 651V660M774 654V660M776 649V660M780 624V660M781 636V660M782 632V660M784 645V660M785 648V660M787 645V660M788 642V660M792 651V660M795 611V660M796 593V660M798 636V660M799 627V660M800 582V660M804 641V660M806 641V660M807 626V660M808 641V660M809 622V660M810 638V660M811 648V660M813 651V660M817 645V660M818 645V660M820 621V660M821 592V660M822 639V660M824 643V660M825 646V660M828 643V660M829 630V660M831 649V660M832 649V660M833 631V660M835 648V660M836 640V660M842 654V660M843 634V660M844 629V660M846 651V660M847 641V660M849 648V660M853 643V660M854 648V660M855 649V660M857 645V660M858 624V660M860 574V660M861 646V660M862 628V660M865 631V660M866 629V660M868 611V660M869 602V660M871 651V660M872 640V660M873 633V660M877 621V660M879 638V660M880 614V660M882 635V660M883 591V660M884 621V660M886 558V660M890 623V660M891 632V660M893 628V660M894 631V660M895 639V660M897 632V660M898 637V660M902 600V660M904 631V660M905 618V660M906 613V660M908 636V660M909 615V660M913 613V660M915 633V660M916 645V660M917 643V660M919 641V660M922 649V660M926 587V660M927 620V660M928 623V660M930 645V660M931 615V660M933 657V660M939 645V660M941 643V660M944 627V660M945 615V660M946 606V660M950 643V660M952 640V660M953 567V660M955 584V660M956 600V660M957 618V660M959 638V660M963 623V660M964 635V660M966 636V660M967 641V660M968 641V660M970 627V660M971 633V660M975 582V660M977 634V660M978 605V660M979 622V660M981 638V660M982 593V660M988 584V660M989 587V660M990 585V660M992 636V660M993 636V660M995 634V660M996 584V660M999 637V660M1000 634V660M1001 635V660M1003 618V660M1004 628V660M1006 635V660M1007 632V660M1008 649V660M1011 624V660M1012 639V660M1014 639V660M1015 641V660M1017 587V660M1018 630V660M1019 607V660M1023 613V660M1025 600V660M1028 636V660M1029 639V660M1030 637V660M1032 640V660M1036 620V660M1037 586V660M1039 605V660M1040 606V660M1041 631V660M1043 628V660M1044 641V660M1048 635V660M1050 642V660M1051 646V660M1052 624V660M1054 637V660M1055 620V660M1057 648V660M1061 645V660M1062 645V660M1063 602V660M1065 588V660M1066 601V660M1068 632V660M1069 639V660M1072 637V660M1073 603V660M1074 589V660M1076 619V660M1077 607V660M1079 596V660" stroke="#bbbbbb" stroke-width="1" fill="none" transform="translate(0.5 0)"/>
</g>
<path d="M176.50 500.50V659.50M367.50 500.50V659.50M557.50 500.50V659.50M747.50 500.50V659.50M938.50 500.50V659.50M1129.50 500.50V659.50M45.50 604.50H1130.50M45.50 549.50H1130.50" stroke="#b0b0b0" stroke-width="1.1" fill="none"/>
<rect x="45.50" y="500.50" width="1085.00" height="159.00" fill="none" stroke="#000" stroke-width="1.1"/>
<path d="M176.50 659.50v5.3M367.50 659.50v5.3M557.50 659.50v5.3M747.50 659.50v5.3M938.50 659.50v5.3M1129.50 659.50v5.3M45.50 659.50h-5.3M45.50 604.50h-5.3M45.50 549.50h-5.3" stroke="#000" stroke-width="1.1" fill="none"/>
<text x="35.20" y="665.00" font-size="12.40" text-anchor="end" fill="#000" textLength="8.4" lengthAdjust="spacingAndGlyphs">0</text>
<text x="35.20" y="610.00" font-size="12.40" text-anchor="end" fill="#000" textLength="8.4" lengthAdjust="spacingAndGlyphs">1</text>
<text x="35.20" y="555.00" font-size="12.40" text-anchor="end" fill="#000" textLength="8.4" lengthAdjust="spacingAndGlyphs">2</text>
<text x="176.60" y="678.90" font-size="12.40" text-anchor="middle" fill="#000" textLength="52.8" lengthAdjust="spacingAndGlyphs">2021-01</text>
<text x="367.60" y="678.90" font-size="12.40" text-anchor="middle" fill="#000" textLength="52.8" lengthAdjust="spacingAndGlyphs">2022-01</text>
<text x="557.60" y="678.90" font-size="12.40" text-anchor="middle" fill="#000" textLength="52.8" lengthAdjust="spacingAndGlyphs">2023-01</text>
<text x="747.60" y="678.90" font-size="12.40" text-anchor="middle" fill="#000" textLength="52.8" lengthAdjust="spacingAndGlyphs">2024-01</text>
<text x="938.60" y="678.90" font-size="12.40" text-anchor="middle" fill="#000" textLength="52.8" lengthAdjust="spacingAndGlyphs">2025-01</text>
<text x="1128.30" y="678.90" font-size="12.40" text-anchor="middle" fill="#000" textLength="52.8" lengthAdjust="spacingAndGlyphs">2026-01</text>
<text x="45.00" y="497.00" font-size="12.40" text-anchor="start" fill="#000" textLength="22.4" lengthAdjust="spacingAndGlyphs">1e6</text>
<text transform="translate(18.4 582.2) rotate(-90)" font-size="12.40" text-anchor="middle" textLength="43.8" lengthAdjust="spacingAndGlyphs">Volume</text>
<rect x="52.6" y="16.5" width="107.6" height="120.2" rx="2.8" ry="2.8" fill="#fff" fill-opacity="0.8" stroke="#cccccc" stroke-opacity="0.8" stroke-width="1.39"/>
<line x1="56" x2="86.1" y1="26.0" y2="26.0" stroke="#000" stroke-width="2.08"/>
<line x1="56" x2="86.1" y1="45.9" y2="45.9" stroke="#008000" stroke-width="2.08"/>
<line x1="56" x2="86.1" y1="66.9" y2="66.9" stroke="#ff0000" stroke-width="2.08"/>
<line x1="56" x2="86.1" y1="86.0" y2="86.0" stroke="#800080" stroke-width="2.08"/>
<polygon points="71.5,95.8 81.9,116.6 61.1,116.6" fill="#008000"/>
<polygon points="71.5,134.8 81.9,114.0 61.1,114.0" fill="#ff0000"/>
<text x="96.80" y="31.80" font-size="12.40" text-anchor="start" fill="#000" textLength="33.2" lengthAdjust="spacingAndGlyphs">Close</text>
<text x="96.00" y="51.50" font-size="12.40" text-anchor="start" fill="#000" textLength="38.0" lengthAdjust="spacingAndGlyphs">MA50[</text>
<text class="cjk" x="134.25" y="52.96" font-size="14.60" text-anchor="start" fill="#000">买</text>
<text x="149.20" y="51.50" font-size="12.40" text-anchor="start" fill="#000">]</text>
<text x="96.00" y="72.50" font-size="12.40" text-anchor="start" fill="#000" textLength="38.0" lengthAdjust="spacingAndGlyphs">MA25[</text>
<text class="cjk" x="134.25" y="73.96" font-size="14.60" text-anchor="start" fill="#000">卖</text>
<text x="149.20" y="72.50" font-size="12.40" text-anchor="start" fill="#000">]</text>
<text x="96.00" y="91.80" font-size="12.40" text-anchor="start" fill="#000" textLength="43.2" lengthAdjust="spacingAndGlyphs">MA200</text>
<text x="96.20" y="109.60" font-size="12.40" text-anchor="start" fill="#000" textLength="20.9" lengthAdjust="spacingAndGlyphs">Buy</text>
<text x="97.00" y="128.60" font-size="12.40" text-anchor="start" fill="#000" textLength="22.0" lengthAdjust="spacingAndGlyphs">Sell</text>
<text x="1108.50" y="391.70" font-size="15.00" text-anchor="end" fill="#ff0000" textLength="143.0" lengthAdjust="spacingAndGlyphs">42.34 (-0.15 -0.34%)</text>
<text x="1107.50" y="408.40" font-size="15.00" text-anchor="end" fill="#ff0000" textLength="90.0" lengthAdjust="spacingAndGlyphs">26.19~42.75</text>
<text x="1107.50" y="424.50" font-size="15.00" text-anchor="end" fill="#ff0000" textLength="137.4" lengthAdjust="spacingAndGlyphs">38.32/36.44/31.59</text>
<text x="1107.50" y="440.30" font-size="15.00" text-anchor="end" fill="#ff0000" textLength="128.2" lengthAdjust="spacingAndGlyphs">2025-09-30 04:00</text>
<text x="939.60" y="458.30" font-size="15.00" text-anchor="start" fill="#ff0000" textLength="44.6" lengthAdjust="spacingAndGlyphs">-1.37/</text>
<text class="cjk" x="983.92 999.22" y="460.09" font-size="16.07" text-anchor="start" fill="#ff0000">偏空</text>
<text x="1108.50" y="458.30" font-size="15.00" text-anchor="end" fill="#ff0000" textLength="93.0" lengthAdjust="spacingAndGlyphs">/+0.33/-0.03</text>
<g>
<text x="45.30" y="716.80" font-size="16.90" text-anchor="start" fill="#000" textLength="27.0" lengthAdjust="spacingAndGlyphs">SLV</text>
<text class="cjk" x="77.09 93.49 109.89 126.29" y="718.81" font-size="17.22" text-anchor="start" fill="#000">交易次数</text>
<text x="144.70" y="716.80" font-size="16.90" text-anchor="start" fill="#000">:</text>
<text x="155.00" y="716.80" font-size="16.90" text-anchor="start" fill="#000" textLength="8.4" lengthAdjust="spacingAndGlyphs">3</text>
<text class="cjk" x="44.79 61.19 77.59 93.99 110.39 126.79" y="738.91" font-size="17.22" text-anchor="start" fill="#000">策略总收益率</text>
<text x="145.20" y="736.90" font-size="16.90" text-anchor="start" fill="#000">:</text>
<text x="155.20" y="736.90" font-size="16.90" text-anchor="start" fill="#000" textLength="55.8" lengthAdjust="spacingAndGlyphs">88.69%</text>
<text class="cjk" x="44.79 61.19 77.59 93.99 110.39 126.79" y="758.11" font-size="17.22" text-anchor="start" fill="#000">长期持有收益</text>
<text x="145.20" y="756.10" font-size="16.90" text-anchor="start" fill="#000">:</text>
<text x="155.20" y="756.10" font-size="16.90" text-anchor="start" fill="#000" textLength="55.8" lengthAdjust="spacingAndGlyphs">87.04%</text>
<text class="cjk" x="44.79 61.19 77.59 93.99" y="777.71" font-size="17.22" text-anchor="start" fill="#000">交易记录</text>
<text x="112.60" y="775.70" font-size="16.90" text-anchor="start" fill="#000">:</text>
</g>
<text x="55.70" y="793.00" font-size="16.90" text-anchor="start" fill="#000" textLength="64.5" lengthAdjust="spacingAndGlyphs">Buy Date</text>
<text x="130.60" y="793.00" font-size="16.90" text-anchor="start" fill="#000" textLength="66.1" lengthAdjust="spacingAndGlyphs">Buy Price</text>
<text x="207.70" y="793.00" font-size="16.90" text-anchor="start" fill="#000" textLength="66.1" lengthAdjust="spacingAndGlyphs">Sell Date</text>
<text x="284.00" y="793.00" font-size="16.90" text-anchor="start" fill="#000" textLength="67.3" lengthAdjust="spacingAndGlyphs">Sell Price</text>
<text x="361.70" y="793.00" font-size="16.90" text-anchor="start" fill="#000" textLength="95.0" lengthAdjust="spacingAndGlyphs">Holding Days</text>
<text x="466.70" y="793.00" font-size="16.90" text-anchor="start" fill="#000" textLength="54.9" lengthAdjust="spacingAndGlyphs">Profit %</text>
<text x="45.10" y="810.40" font-size="16.90" text-anchor="start" fill="#000" textLength="89.0" lengthAdjust="spacingAndGlyphs">2020-10-05</text>
<text x="164.20" y="810.40" font-size="16.90" text-anchor="start" fill="#000" textLength="45.2" lengthAdjust="spacingAndGlyphs">22.64</text>
<text x="214.30" y="810.40" font-size="16.90" text-anchor="start" fill="#000" textLength="89.2" lengthAdjust="spacingAndGlyphs">2024-07-18</text>
<text x="338.80" y="810.40" font-size="16.90" text-anchor="start" fill="#000" textLength="45.4" lengthAdjust="spacingAndGlyphs">27.20</text>
<text x="433.10" y="810.40" font-size="16.90" text-anchor="start" fill="#000" textLength="41.0" lengthAdjust="spacingAndGlyphs">1382</text>
<text x="498.00" y="810.40" font-size="16.90" text-anchor="start" fill="#000" textLength="45.6" lengthAdjust="spacingAndGlyphs">20.14</text>
<text x="45.10" y="827.70" font-size="16.90" text-anchor="start" fill="#000" textLength="89.0" lengthAdjust="spacingAndGlyphs">2024-07-19</text>
<text x="164.20" y="827.70" font-size="16.90" text-anchor="start" fill="#000" textLength="45.2" lengthAdjust="spacingAndGlyphs">26.68</text>
<text x="214.30" y="827.70" font-size="16.90" text-anchor="start" fill="#000" textLength="89.2" lengthAdjust="spacingAndGlyphs">2025-07-30</text>
<text x="338.80" y="827.70" font-size="16.90" text-anchor="start" fill="#000" textLength="45.4" lengthAdjust="spacingAndGlyphs">33.52</text>
<text x="438.90" y="827.70" font-size="16.90" text-anchor="start" fill="#000" textLength="29.9" lengthAdjust="spacingAndGlyphs">376</text>
<text x="493.40" y="827.70" font-size="16.90" text-anchor="start" fill="#000" textLength="45.1" lengthAdjust="spacingAndGlyphs">25.66</text>
<text x="45.10" y="844.70" font-size="16.90" text-anchor="start" fill="#000" textLength="89.0" lengthAdjust="spacingAndGlyphs">2025-08-19</text>
<text x="164.20" y="844.70" font-size="16.90" text-anchor="start" fill="#000" textLength="45.2" lengthAdjust="spacingAndGlyphs">33.88</text>
<text x="214.30" y="844.70" font-size="16.90" text-anchor="start" fill="#000" textLength="89.2" lengthAdjust="spacingAndGlyphs">2025-09-30</text>
<text x="338.80" y="844.70" font-size="16.90" text-anchor="start" fill="#000" textLength="45.4" lengthAdjust="spacingAndGlyphs">42.34</text>
<text x="443.50" y="844.70" font-size="16.90" text-anchor="start" fill="#000" textLength="20.6" lengthAdjust="spacingAndGlyphs">42</text>
<text x="488.70" y="844.70" font-size="16.90" text-anchor="start" fill="#000" textLength="45.0" lengthAdjust="spacingAndGlyphs">24.99</text>
</svg></body></html>
